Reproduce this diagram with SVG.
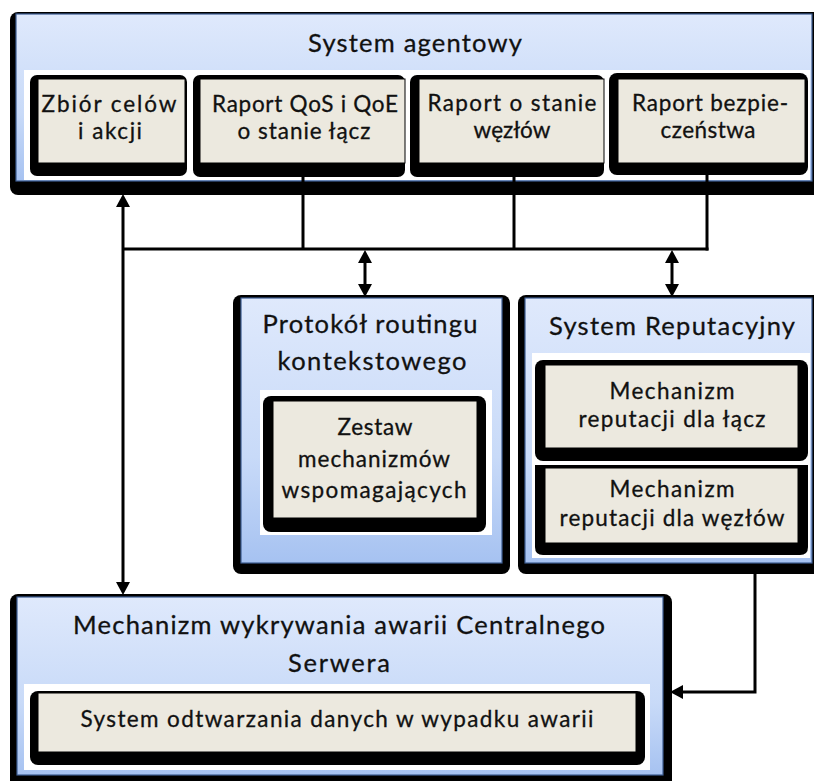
<svg xmlns="http://www.w3.org/2000/svg" width="814" height="781" viewBox="0 0 814 781">
  <defs>
    <linearGradient id="blueFill" x1="0" y1="0" x2="0" y2="1">
      <stop offset="0" stop-color="#dfe9fc"/>
      <stop offset="0.6" stop-color="#c8daf8"/>
      <stop offset="1" stop-color="#a6c2f1"/>
    </linearGradient>
    <marker id="arrow" viewBox="0 0 13 14" refX="3" refY="7" markerWidth="13" markerHeight="14" markerUnits="userSpaceOnUse" orient="auto-start-reverse">
      <path d="M0,0 L13,7 L0,14 z" fill="#000"/>
    </marker>
  </defs>
  <style>
    .shadow { fill: #000; }
    .panel { fill: url(#blueFill); stroke: #3d5d92; stroke-width: 1.2; }
    .well { fill: #fff; }
    .card { fill: #ece9df; stroke: #000; stroke-width: 1; }
    .title { font-family: Lato, "Liberation Sans", sans-serif; font-size: 25.5px; fill: #111; stroke: #111; stroke-width: 0.3; text-anchor: middle; }
    .label { font-family: Lato, "Liberation Sans", sans-serif; font-size: 22.5px; fill: #111; stroke: #111; stroke-width: 0.3; text-anchor: middle; }
    .wire { fill: none; stroke: #000; stroke-width: 3; }
    .arrowed { fill: none; stroke: #000; stroke-width: 3; marker-start: url(#arrow); marker-end: url(#arrow); }
    .arrow-end { fill: none; stroke: #000; stroke-width: 3; marker-end: url(#arrow); }
  </style>

  <rect width="814" height="781" fill="#fff"/>

  <!-- System agentowy -->
  <g id="system-agentowy">
    <rect class="shadow" x="10" y="12" width="812" height="183" rx="8"/>
    <rect class="panel" x="16" y="14" width="796" height="167"/>
    <text class="title" x="415" y="52" textLength="214">System agentowy</text>
    <rect class="well" x="24" y="70" width="786" height="110"/>
  </g>

  <g id="zbior-celow">
    <rect class="shadow" x="30" y="75" width="157" height="101" rx="7"/>
    <rect class="card" x="38" y="79" width="147" height="84"/>
    <text class="label" x="109" y="111.5" textLength="135">Zbiór celów</text>
    <text class="label" x="110" y="138.5" textLength="64">i akcji</text>
  </g>

  <g id="raport-qos">
    <rect class="shadow" x="193" y="75" width="212" height="102" rx="7"/>
    <rect class="card" x="200" y="79" width="205" height="84"/>
    <text class="label" x="305" y="111.5" textLength="186">Raport QoS i QoE</text>
    <text class="label" x="304" y="138.5" textLength="133">o stanie łącz</text>
  </g>

  <g id="raport-wezlow">
    <rect class="shadow" x="410" y="75" width="194" height="102" rx="7"/>
    <rect class="card" x="419" y="79" width="185" height="84"/>
    <text class="label" x="512" y="111" textLength="169">Raport o stanie</text>
    <text class="label" x="512" y="138">węzłów</text>
  </g>

  <g id="raport-bezpieczenstwa">
    <rect class="shadow" x="609" y="73" width="199" height="102" rx="8"/>
    <rect class="card" x="618" y="79" width="187" height="84"/>
    <text class="label" x="710" y="110.5" textLength="156">Raport bezpie-</text>
    <text class="label" x="708" y="138" textLength="95">czeństwa</text>
  </g>

  <!-- Protokół routingu kontekstowego -->
  <g id="protokol-routingu">
    <rect class="shadow" x="233" y="295" width="277" height="279" rx="8"/>
    <rect class="panel" x="241" y="298" width="261" height="265"/>
    <text class="title" x="370" y="333" textLength="215">Protokół routingu</text>
    <text class="title" x="372" y="370" textLength="189">kontekstowego</text>
    <rect class="well" x="260" y="390" width="232" height="145"/>
  </g>

  <g id="zestaw-mechanizmow">
    <rect class="shadow" x="263" y="396" width="223" height="136" rx="8"/>
    <rect class="card" x="273" y="401" width="204" height="117"/>
    <text class="label" x="375" y="435" textLength="75">Zestaw</text>
    <text class="label" x="374" y="467" textLength="152">mechanizmów</text>
    <text class="label" x="374" y="498" textLength="185">wspomagających</text>
  </g>

  <!-- System Reputacyjny -->
  <g id="system-reputacyjny">
    <rect class="shadow" x="518" y="295" width="310" height="279" rx="8"/>
    <rect class="panel" x="525" y="298" width="287" height="265"/>
    <text class="title" x="672" y="335" textLength="246">System Reputacyjny</text>
    <rect class="well" x="532" y="353" width="278" height="205"/>
  </g>

  <g id="reputacja-laczy">
    <rect class="shadow" x="535" y="360" width="273" height="101" rx="8"/>
    <rect class="card" x="545" y="365" width="253" height="83"/>
    <text class="label" x="672" y="399" textLength="125">Mechanizm</text>
    <text class="label" x="672" y="427" textLength="187">reputacji dla łącz</text>
  </g>

  <g id="reputacja-wezlow">
    <path class="shadow" d="M535 465 H808 V547 Q808 555 800 555 H543 Q535 555 535 547 Z"/>
    <rect class="card" x="545" y="468" width="253" height="75"/>
    <text class="label" x="672" y="497" textLength="125">Mechanizm</text>
    <text class="label" x="672" y="526" textLength="225">reputacji dla węzłów</text>
  </g>

  <!-- Mechanizm wykrywania awarii Centralnego Serwera -->
  <g id="mechanizm-wykrywania">
    <rect class="shadow" x="10" y="594" width="662" height="200" rx="8"/>
    <rect class="panel" x="17" y="597" width="646" height="178"/>
    <text class="title" x="339" y="634" textLength="532">Mechanizm wykrywania awarii Centralnego</text>
    <text class="title" x="339" y="672" textLength="102">Serwera</text>
    <rect class="well" x="24" y="684" width="626" height="86"/>
  </g>

  <g id="system-odtwarzania">
    <rect class="shadow" x="30" y="691" width="615" height="74" rx="8"/>
    <rect class="card" x="38" y="693" width="598" height="59"/>
    <text class="label" x="337" y="727" textLength="513">System odtwarzania danych w wypadku awarii</text>
  </g>

  <!-- connectors -->
  <g id="connectors">
    <path class="wire" d="M123 249 H708.5"/>
    <path class="wire" d="M303 177 V249"/>
    <path class="wire" d="M514 177 V249"/>
    <path class="wire" d="M707 175 V250.5"/>
    <path class="arrowed" d="M123 204 V585"/>
    <path class="arrowed" d="M365 260 V287"/>
    <path class="arrowed" d="M672 260 V287"/>
    <path class="arrow-end" d="M755 574 V692 H680"/>
  </g>
</svg>
